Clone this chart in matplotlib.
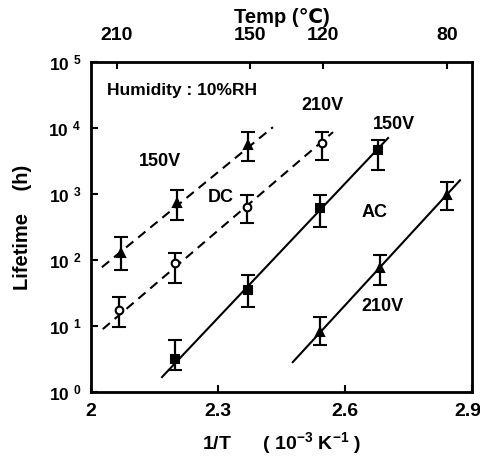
import numpy as np
import matplotlib
matplotlib.use('Agg')
import matplotlib.pyplot as plt
import matplotlib.transforms as mtransforms
from matplotlib.ticker import FixedLocator, FixedFormatter, NullLocator

plt.rcParams['font.family'] = ['Liberation Sans', 'DejaVu Sans']
plt.rcParams['font.weight'] = 'bold'
plt.rcParams['mathtext.default'] = 'regular'

# 150V DC (filled triangles, dashed)
dc150_x = [2.071, 2.203, 2.371]
dc150_y = [128, 730, 5520]
dc150_lo = [70, 404, 3160]
dc150_hi = [223, 1150, 8700]
dc150_fit_x = [2.026, 2.430]
dc150_fit_y = [78, 10350]

# 210V DC (open circles, dashed)
dc210_x = [2.066, 2.199, 2.369, 2.546]
dc210_y = [17.5, 90, 635, 5900]
dc210_lo = [9.7, 45, 363, 3270]
dc210_hi = [27.5, 128, 966, 8700]
dc210_fit_x = [2.028, 2.572]
dc210_fit_y = [9.0, 8710]

# 150V AC (filled squares, solid)
ac150_x = [2.199, 2.371, 2.541, 2.678]
ac150_y = [3.16, 35, 613, 4640]
ac150_lo = [2.15, 19.4, 316, 2310]
ac150_hi = [6.1, 59, 966, 6580]
ac150_fit_x = [2.168, 2.702]
ac150_fit_y = [1.69, 7080]

# 210V AC (filled triangles, solid)
ac210_x = [2.541, 2.683, 2.841]
ac210_y = [8.1, 75.7, 966]
ac210_lo = [5.15, 41.8, 573]
ac210_hi = [13.7, 119, 1520]
ac210_fit_x = [2.477, 2.872]
ac210_fit_y = [2.85, 1620]

# axis ticks
x_ticks = [2, 2.3, 2.6, 2.9]
x_labels = ['2', '2.3', '2.6', '2.9']
y_exps = [0, 1, 2, 3, 4, 5]
top_temps = [210, 150, 120, 80]
top_pos = [2.061, 2.376, 2.548, 2.841]

fig = plt.figure(figsize=(4.81, 4.57), dpi=100)
ax = fig.add_axes([0.189, 0.142, 0.792, 0.722])

def draw(x, y, lo, hi, fx, fy, marker, mfc, ms, ls):
    x = np.array(x); y = np.array(y)
    yerr = [y - np.array(lo), np.array(hi) - y]
    ax.errorbar(x, y, yerr=yerr, fmt=marker, ms=ms, mfc=mfc, mec='black',
                mew=1.5, ecolor='black', elinewidth=1.6, capsize=4.7,
                capthick=1.6, zorder=3)
    ax.plot(fx, fy, color='black', lw=1.5, ls=ls, zorder=2)

dash = (0, (4.5, 3))
draw(dc150_x, dc150_y, dc150_lo, dc150_hi, dc150_fit_x, dc150_fit_y, '^', 'black', 6, dash)
draw(dc210_x, dc210_y, dc210_lo, dc210_hi, dc210_fit_x, dc210_fit_y, 'o', 'white', 5.5, dash)
draw(ac150_x, ac150_y, ac150_lo, ac150_hi, ac150_fit_x, ac150_fit_y, 's', 'black', 6, '-')
draw(ac210_x, ac210_y, ac210_lo, ac210_hi, ac210_fit_x, ac210_fit_y, '^', 'black', 6, '-')

ax.set_yscale('log')
ax.set_xlim(2, 2.9)
ax.set_ylim(1, 1e5)

ax.xaxis.set_major_locator(FixedLocator(x_ticks))
ax.xaxis.set_major_formatter(FixedFormatter(x_labels))
ax.yaxis.set_major_locator(FixedLocator([10.0 ** e for e in y_exps]))
ax.yaxis.set_major_formatter(FixedFormatter(['10 $^{%d}$' % e for e in y_exps]))
ax.yaxis.set_minor_locator(NullLocator())
ax.tick_params(direction='in', length=5, width=1.5)
ax.tick_params(axis='x', pad=8, labelsize=14)
ax.tick_params(axis='y', pad=7, labelsize=12.5)
for s in ax.spines.values():
    s.set_linewidth(2)

# nudge the clipped "2.9" label a little to the left, as in the original
fig.canvas.draw()
last = ax.get_xticklabels()[-1]
last.set_transform(last.get_transform() + mtransforms.ScaledTranslation(-4 / 100, 0, fig.dpi_scale_trans))

ax2 = ax.twiny()
ax2.set_xlim(ax.get_xlim())
ax2.xaxis.set_major_locator(FixedLocator(top_pos))
ax2.xaxis.set_major_formatter(FixedFormatter([str(t) for t in top_temps]))
ax2.tick_params(direction='in', length=5, width=1.5, labelsize=14, pad=13)
ax2.set_xlabel('Temp (\u2103)', fontsize=14.5, fontweight='bold', labelpad=3)

ax.set_xlabel('1/T      ( 10$^{-3}$ K$^{-1}$ )', fontsize=14, fontweight='bold', labelpad=7)
ax.set_ylabel('Lifetime    (h)', fontsize=14.5, fontweight='bold', labelpad=12)

tk = dict(fontsize=13, fontweight='bold', ha='center', va='center', transform=ax.transAxes)
ax.text(0.042, 0.915, 'Humidity : 10%RH', ha='left', va='center', fontsize=12.5,
        fontweight='bold', transform=ax.transAxes)
ax.text(0.181, 0.700, '150V', **tk)
ax.text(0.341, 0.591, 'DC', **tk)
ax.text(0.609, 0.870, '210V', **tk)
ax.text(0.795, 0.812, '150V', **tk)
ax.text(0.745, 0.545, 'AC', **tk)
ax.text(0.766, 0.258, '210V', **tk)

fig.savefig('out.png', dpi=100)
